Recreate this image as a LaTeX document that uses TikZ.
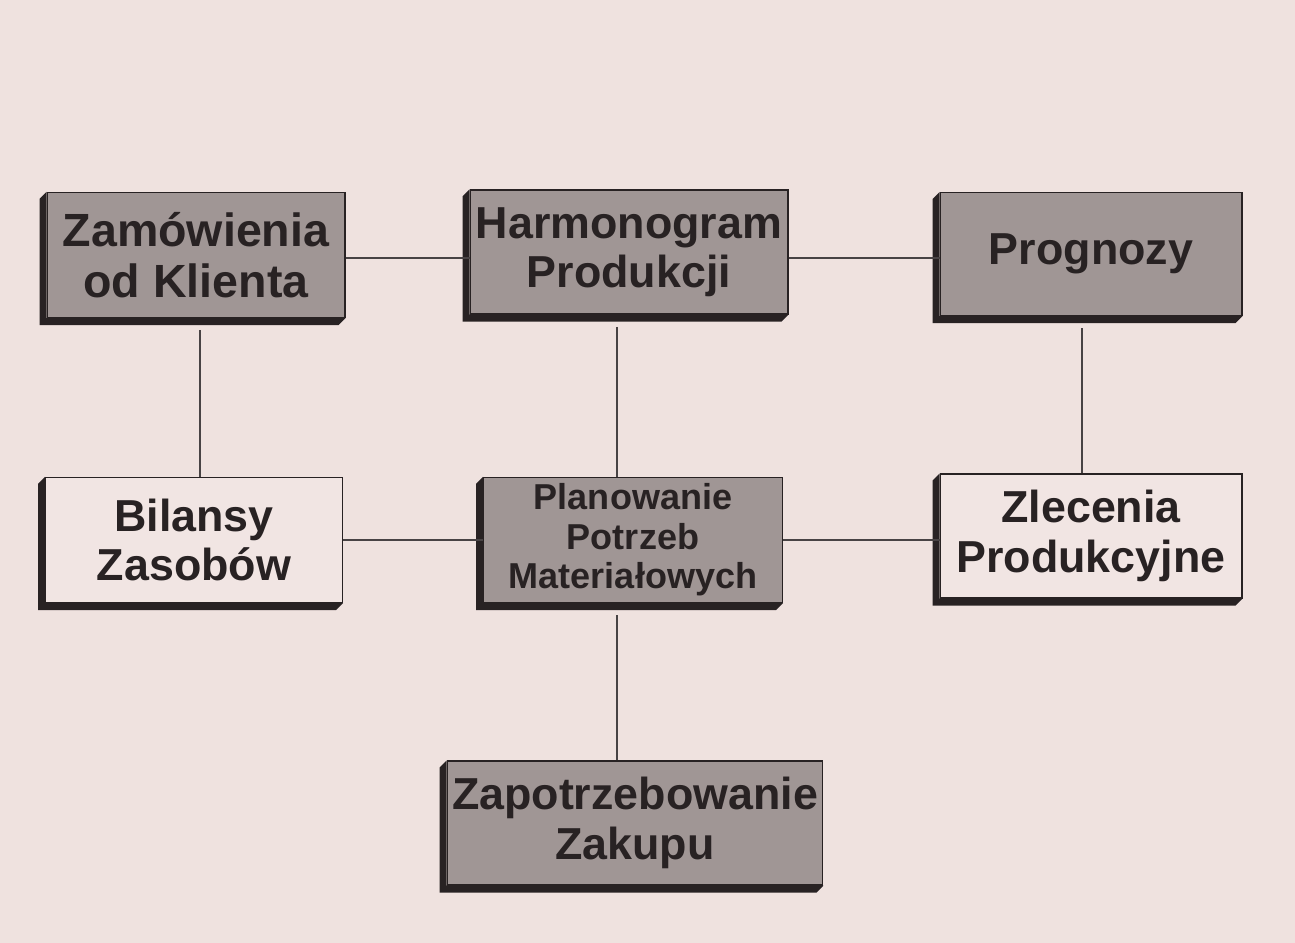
\documentclass[tikz,border=0pt]{standalone}
\usepackage{fontspec}
\setmainfont{Liberation Sans}
\usetikzlibrary{calc}

\definecolor{paper}{RGB}{239,226,223}
\definecolor{boxdark}{RGB}{160,150,149}
\definecolor{boxlight}{RGB}{241,229,227}
\definecolor{ink}{RGB}{40,34,35}

\tikzset{
  blok/.style={draw=ink, line width=0.6pt, align=center, text=ink,
    font=\bfseries\fontsize{25.5}{28}\selectfont, inner sep=0pt},
  ciemny/.style={blok, fill=boxdark},
  jasny/.style={blok, fill=boxlight},
  linia/.style={draw=ink!85, line width=0.6pt}
}

\begin{document}
\begin{tikzpicture}[x=0.02cm, y=-0.02cm]
    \fill[paper] (0,0) rectangle (1295,943);
    \useasboundingbox (0,0) rectangle (1295,943);

    % kolumny lacznikow
    \coordinate (lewa) at (200,0);
    \coordinate (srodek) at (617,0);
    \coordinate (prawa) at (1082,0);
    \coordinate (gora) at (0,258);

    % gorny rzad
    \node[ciemny, minimum width=5.96cm, minimum height=2.5cm,
      font=\bfseries\fontsize{26.5}{29}\selectfont] (zam) at (196,255) {Zamówienia\\od Klienta};
    \node[ciemny, minimum width=6.36cm, minimum height=2.48cm] (harm) at (629,252) {Harmonogram\\Produkcji};
    \node[ciemny, minimum width=6.04cm, minimum height=2.46cm] (prog) at (1091,254) {Prognozy};

    % srodkowy rzad
    \node[jasny, minimum width=5.94cm, minimum height=2.5cm] (bil) at (194,540) {Bilansy\\Zasobów};
    \node[ciemny, minimum width=5.98cm, minimum height=2.5cm,
      font=\bfseries\fontsize{20.5}{22.5}\selectfont] (plan) at (633,540) {Planowanie\\Potrzeb\\Materiałowych};
    \node[jasny, minimum width=6.04cm, minimum height=2.48cm] (zlec) at (1091,536) {Zlecenia\\Produkcyjne};

    % dolny
    \node[ciemny, minimum width=7.52cm, minimum height=2.48cm] (zap) at (635,823) {Zapotrzebowanie\\Zakupu};

    % cienie
    \foreach \n in {zam,harm,prog,bil,plan,zlec,zap}
      \fill[ink] (\n.north west) -- ++(-7,7) -- ($(\n.south west)+(-7,7)$)
        -- ($(\n.south east)+(-7,7)$) -- (\n.south east) -- (\n.south west) -- cycle;

    % polaczenia
    \draw[linia] (zam.east |- gora) -- (harm.west |- gora);
    \draw[linia] (harm.east |- gora) -- (prog.west |- gora);
    \draw[linia] ([yshift=-7]zam.south -| lewa) -- (bil.north -| lewa);
    \draw[linia] ([yshift=-7]harm.south -| srodek) -- (plan.north -| srodek);
    \draw[linia] ([yshift=-7]prog.south -| prawa) -- (zlec.north -| prawa);
    \draw[linia] (bil.east) -- (bil.east -| plan.west);
    \draw[linia] (plan.east) -- (plan.east -| zlec.west);
    \draw[linia] ([yshift=-7]plan.south -| srodek) -- (zap.north -| srodek);
\end{tikzpicture}
\end{document}
